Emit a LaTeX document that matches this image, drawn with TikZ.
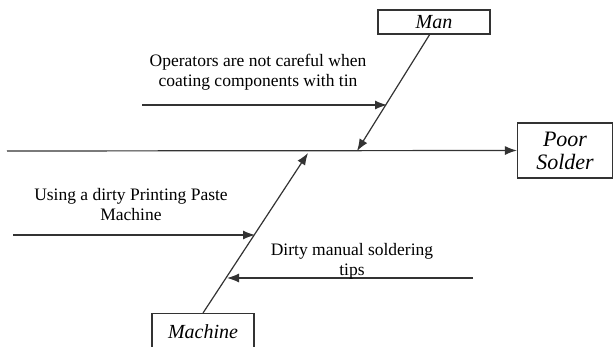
\documentclass[tikz,border=0pt]{standalone}
\usepackage{fontspec}
\setmainfont{Liberation Serif}
\usetikzlibrary{arrows.meta}
\definecolor{linec}{HTML}{333333}
\begin{document}
\begin{tikzpicture}[x=1pt,y=-1pt,
  lbl/.style={font=\fontsize{17.5}{20}\selectfont, align=center, inner sep=0pt, text=black},
  catbox/.style={draw=linec, line width=1.2pt, font=\fontsize{20}{22}\selectfont\itshape, inner sep=0pt, align=center},
  bone/.style={draw=linec, line width=1.2pt},
  arr/.style={bone, -{Latex[length=12pt,width=9pt]}}]
\useasboundingbox (0,0) rectangle (613,347);
% category boxes
\node[catbox, minimum width=112pt, minimum height=24pt] (man) at (434,22) {Man};
\node[catbox, minimum width=95pt, minimum height=55pt, font=\fontsize{22}{23}\selectfont\itshape] (poor) at (565,150.5) {Poor\\Solder};
\node[catbox, minimum width=102pt, minimum height=44pt, anchor=north] (machine) at (203,313) {};
\node[font=\fontsize{20}{22}\selectfont\itshape, inner sep=0pt] (machinetxt) at (203,332) {Machine};
% spine
\coordinate (s0) at (7,151);
\draw[arr] (s0) -- (poor.west);
% main bones
\coordinate (m0) at (430,34);
\coordinate (mtip) at (357,151);
\draw[arr] (m0) -- (mtip);
\coordinate (mctip) at (308,153);
\draw[arr] (machine.north) -- (mctip);
% cause arrows
\coordinate (op0) at (142,105);
\coordinate (op1) at (387,105);
\draw[arr] (op0) -- (op1);
\coordinate (us0) at (13,235);
\coordinate (us1) at (255,235);
\draw[arr] (us0) -- (us1);
\coordinate (dm0) at (473,278);
\coordinate (dm1) at (227,278);
\draw[arr] (dm0) -- (dm1);
% labels
\node[lbl] (oplbl) at (258,72) {Operators are not careful when\\coating components with tin};
\node[lbl] (uslbl) at (131,205) {Using a dirty Printing Paste\\Machine};
\node[lbl] (dmlbl) at (352,261) {Dirty manual soldering\\tips};
\end{tikzpicture}
\end{document}
